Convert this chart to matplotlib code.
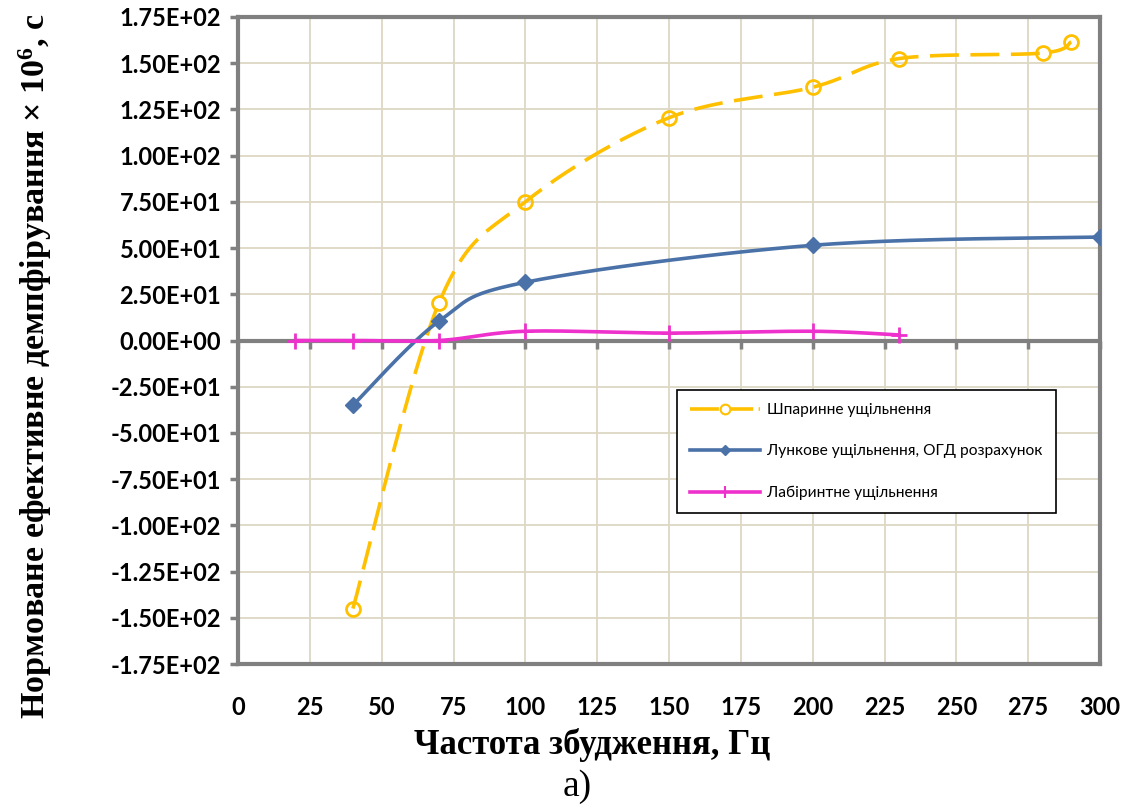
import numpy as np
import matplotlib
matplotlib.use("Agg")
import matplotlib.pyplot as plt
from matplotlib.lines import Line2D

# ---- data ----
gap_x = [40, 70, 100, 150, 200, 230, 280, 290]
gap_y = [-145, 20.5, 75, 120.5, 137, 152.5, 155.5, 161.5]

hole_x = [40, 70, 100, 200, 300]
hole_y = [-35, 10.5, 31.5, 51.5, 56]

lab_x = [20, 40, 70, 100, 150, 200, 230]
lab_y = [0, 0, 0, 5, 4, 5, 3]

labels = ["Шпаринне ущільнення",
          "Лункове ущільнення, ОГД розрахунок",
          "Лабіринтне ущільнення"]
x_ticks = list(range(0, 301, 25))
y_ticks = list(range(-175, 176, 25))

xlabel = "Частота збудження, Гц"
ylabel = "Нормоване ефективне демпфірування × 10$^{6}$, с"

C_GAP = "#FFC000"
C_HOLE = "#4A72A8"
C_LAB = "#EE30CC"
GRAY = "#808080"
GRID = "#DDD8C4"

plt.rcParams["mathtext.fontset"] = "custom"
plt.rcParams["mathtext.rm"] = "Liberation Serif:bold"
plt.rcParams["mathtext.it"] = "Liberation Serif:bold"
plt.rcParams["mathtext.bf"] = "Liberation Serif:bold"

fig = plt.figure(figsize=(11.31, 8.09), dpi=100)
ax = fig.add_axes([238 / 1131, 1 - 664 / 809, (1100 - 238) / 1131, (664 - 17) / 809])
ax.set_xlim(0, 300)
ax.set_ylim(-175, 175)

# scale to approx pixel space for Excel-like smoothing
sx = 862 / 300.0
sy = 647 / 350.0


def smooth(xs, ys, n=40):
    P = np.column_stack([np.array(xs, float) * sx, np.array(ys, float) * sy])
    m = len(P)
    out = []
    for i in range(m - 1):
        p0 = P[i - 1] if i > 0 else P[i]
        p1 = P[i]
        p2 = P[i + 1]
        p3 = P[i + 2] if i + 2 < m else P[i + 1]
        c1 = p1 + (p2 - p0) / 6.0
        c2 = p2 - (p3 - p1) / 6.0
        t = np.linspace(0, 1, n)[:, None]
        seg = ((1 - t) ** 3) * p1 + 3 * ((1 - t) ** 2) * t * c1 + 3 * (1 - t) * t ** 2 * c2 + t ** 3 * p2
        out.append(seg if i == 0 else seg[1:])
    S = np.vstack(out)
    return S[:, 0] / sx, S[:, 1] / sy


ax.grid(True, color=GRID, linewidth=1.3, zorder=0)
ax.set_axisbelow(True)

# zero line with downward tick marks
ax.axhline(0, color=GRAY, linewidth=3, zorder=1.5)
ax.plot(x_ticks, [0] * len(x_ticks), linestyle="none", marker=3, ms=6, mew=2.5,
        color=GRAY, zorder=1.5, clip_on=False)

lw = 2.6
gx, gy = smooth(gap_x, gap_y)
l1, = ax.plot(gx, gy, color=C_GAP, lw=lw, zorder=3)
l1.set_dashes([8, 3.2])
ax.plot(gap_x, gap_y, linestyle="none", marker="o", ms=10, mfc="none",
        mec=C_GAP, mew=2, zorder=4)

hx, hy = smooth(hole_x, hole_y)
ax.plot(hx, hy, color=C_HOLE, lw=lw, zorder=3)
ax.plot(hole_x, hole_y, linestyle="none", marker="D", ms=8, color=C_HOLE, zorder=4)

mx, my = smooth(lab_x, lab_y)
ax.plot(mx, my, color=C_LAB, lw=lw, zorder=3)
ax.plot(lab_x, lab_y, linestyle="none", marker="+", ms=11, mew=2, color=C_LAB, zorder=4)

for s in ax.spines.values():
    s.set_color(GRAY)
    s.set_linewidth(3)

ax.set_xticks(x_ticks)
ax.set_yticks(y_ticks)
ax.set_yticklabels(["{:.2E}".format(v) for v in y_ticks])
ax.tick_params(axis="y", direction="out", length=6, width=2.5, color=GRAY, pad=6)
ax.tick_params(axis="x", length=0, pad=23)
for t in ax.get_xticklabels() + ax.get_yticklabels():
    t.set_fontfamily("Lato")
    t.set_fontweight("bold")
    t.set_fontsize(17)

fig.text(592 / 1131, 1 - 745 / 809, xlabel, ha="center", va="center",
         fontfamily="Liberation Serif", fontweight="bold", fontsize=25)
fig.text(35 / 1131, 1 - 366 / 809, ylabel, rotation=90, ha="center", va="center",
         fontfamily="Liberation Serif", fontweight="bold", fontsize=24.5)
fig.text(577 / 1131, 1 - 787 / 809, "а)", ha="center", va="center",
         fontfamily="Liberation Serif", fontsize=27)

h1 = Line2D([], [], color=C_GAP, lw=lw, marker="o", ms=7, mfc="white", mec=C_GAP, mew=1.5)
h1.set_dashes([8, 1.5])
h2 = Line2D([], [], color=C_HOLE, lw=lw, marker="D", ms=5)
h3 = Line2D([], [], color=C_LAB, lw=lw, marker="|", ms=9, mew=1.5)
leg = ax.legend([h1, h2, h3], labels, loc="upper left",
                bbox_to_anchor=(0.509, 0.4235), borderaxespad=0,
                fancybox=False, edgecolor="black", framealpha=1, borderpad=0.85,
                labelspacing=1.75, handlelength=4.5, handletextpad=0.45,
                prop={"family": "Lato", "size": 11.2})
leg.get_frame().set_linewidth(1.2)
leg.set_zorder(6)

fig.savefig("out.png", dpi=100)
